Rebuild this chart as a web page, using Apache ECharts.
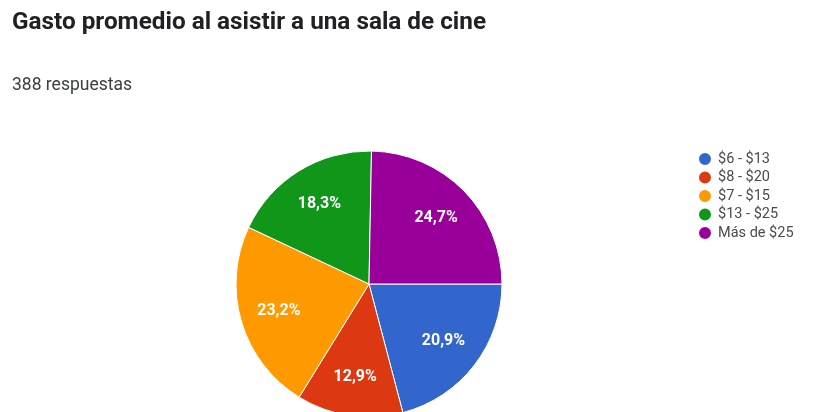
<!DOCTYPE html>
<html>
<head>
<meta charset="utf-8">
<script src="https://cdn.jsdelivr.net/npm/echarts@6/dist/echarts.min.js"></script>
<style>
  html, body { margin: 0; padding: 0; background: #fff; }
  #chart { width: 817px; height: 412px; }
</style>
</head>
<body>
<div id="chart"></div>
<script>
const categories = ['$6 - $13', '$8 - $20', '$7 - $15', '$13 - $25', 'Más de $25']
const percents = [20.9, 12.9, 23.2, 18.3, 24.7]
const colors = ['#3366cc', '#dc3912', '#ff9900', '#109618', '#990099']

const chart = echarts.init(document.getElementById('chart'))

const pieData = categories.map((name, i) => ({ name, value: percents[i] }))
const fmt = p => p.value.toFixed(1).replace('.', ',') + '%'

chart.setOption({
  animation: false,
  color: colors,
  title: [
    {
      text: 'Gasto promedio al asistir a una sala de cine',
      left: 12, top: 11, padding: 0,
      textStyle: { fontFamily: 'Roboto', fontSize: 24.3, fontWeight: 'bold', color: '#202124' },
    },
    {
      text: '388 respuestas',
      left: 12, top: 77, padding: 0,
      textStyle: { fontFamily: 'Roboto', fontSize: 17.5, fontWeight: 'normal', color: '#3c4043' },
    },
  ],
  legend: {
    orient: 'vertical',
    left: 692, top: 146,
    icon: 'circle',
    itemWidth: 16, itemHeight: 14,
    itemGap: 2.5,
    data: categories,
    textStyle: { fontFamily: 'Roboto', fontSize: 14.5, lineHeight: 14, color: '#4a4a4a' },
  },
  series: [
    {
      type: 'pie',
      center: [369, 284],
      radius: [0, 133],
      startAngle: 0,
      clockwise: true,
      data: pieData,
      itemStyle: { borderColor: '#fff', borderWidth: 1 },
      label: { show: false },
      labelLine: { show: false },
      emphasis: { disabled: true },
    },
    {
      // transparent ring only to place the percent labels further out
      type: 'pie',
      center: [369, 284],
      radius: [49, 133],
      startAngle: 0,
      clockwise: true,
      silent: true,
      data: pieData,
      itemStyle: { color: 'rgba(0,0,0,0)' },
      label: {
        show: true, position: 'inside', formatter: fmt,
        fontFamily: 'Roboto', fontSize: 16, fontWeight: 'bold', color: '#fff',
      },
      labelLine: { show: false },
      emphasis: { disabled: true },
    },
  ],
})
</script>
</body>
</html>
